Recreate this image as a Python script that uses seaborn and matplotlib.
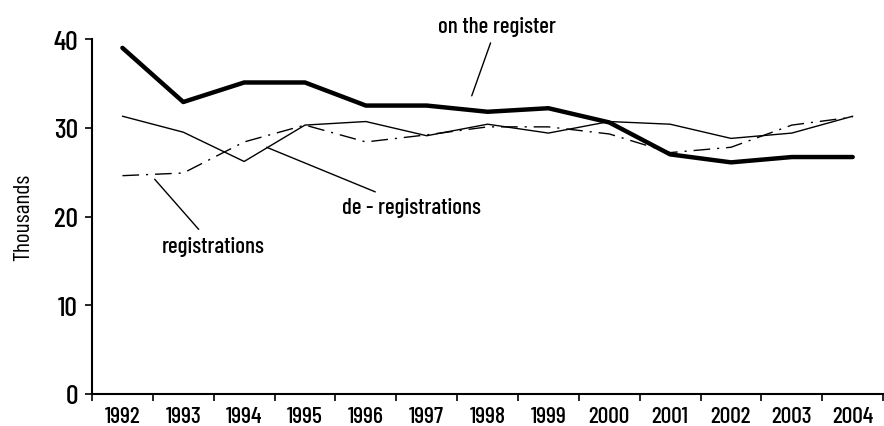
import pandas as pd
import matplotlib.pyplot as plt
import seaborn as sns

sns.set_style("ticks")
plt.rcParams['font.family'] = ['Barlow Condensed', 'DejaVu Sans']
plt.rcParams['font.weight'] = 'medium'

years = [str(y) for y in range(1992, 2005)]
on_register = [39.0, 32.9, 35.1, 35.1, 32.5, 32.5, 31.8, 32.2, 30.6, 27.0, 26.1, 26.7, 26.7]
de_registrations = [31.3, 29.5, 26.2, 30.3, 30.7, 29.1, 30.4, 29.4, 30.7, 30.4, 28.8, 29.4, 31.3]
registrations = [24.6, 24.9, 28.4, 30.3, 28.4, 29.2, 30.1, 30.1, 29.3, 27.2, 27.8, 30.3, 31.2]

df = pd.DataFrame({"year": years, "on": on_register, "de": de_registrations, "reg": registrations})
df["pos"] = range(len(years))

fig = plt.figure(figsize=(8.84, 4.27), dpi=100)
ax = fig.add_axes([92/884, 32/427, 1 - 92/884 - 0.001, (395-40)/427])

sns.lineplot(data=df, x="pos", y="on", color="black", linewidth=3.2, ax=ax)
sns.lineplot(data=df, x="pos", y="de", color="black", linewidth=1.0, ax=ax)
sns.lineplot(data=df, x="pos", y="reg", color="black", linewidth=1.0, ax=ax)
ax.lines[-1].set_dashes((12, 5, 1.5, 5))

ax.set_xlim(-0.5, len(years) - 0.5)
ax.set_ylim(0, 40)
ax.set_yticks([0, 10, 20, 30, 40])
ax.set_xticks(range(len(years)))
ax.set_xticklabels(years)
ax.set_xticks([i - 0.5 for i in range(len(years) + 1)], minor=True)
ax.tick_params(axis="x", which="major", length=0, pad=9, labelsize=17, labelcolor="black")
ax.tick_params(axis="x", which="minor", length=5, width=1.2, direction="out", color="black")
ax.tick_params(axis="y", length=5, width=1.2, labelsize=20, pad=5, labelcolor="black", color="black")
ax.set_xlabel("")
ax.set_ylabel("Thousands", fontsize=17, labelpad=14, color="black")
sns.despine(ax=ax)
for s in ["left", "bottom"]:
    ax.spines[s].set_linewidth(1.5)
    ax.spines[s].set_color("black")

ann = dict(arrowprops=dict(arrowstyle="-", color="black", lw=1.0, shrinkA=3, shrinkB=0),
           fontsize=16.5, ha="center", va="center", color="black", annotation_clip=False)
ax.annotate("on the register", xy=(5.74, 33.6), xytext=(6.15, 41.5), **ann)
ax.annotate("de - registrations", xy=(2.37, 27.8), xytext=(4.75, 21.1), **ann)
ax.annotate("registrations", xy=(0.53, 24.2), xytext=(1.49, 16.7), **ann)

plt.savefig("out.png", dpi=100)
